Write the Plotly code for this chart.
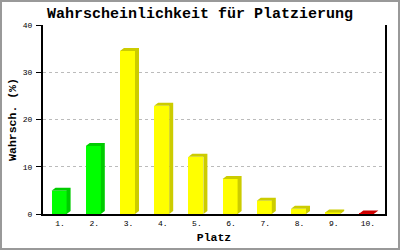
import plotly.graph_objects as go

# ---- data ----
categories = ["1.", "2.", "3.", "4.", "5.", "6.", "7.", "8.", "9.", "10."]
values = [4.9, 14.4, 34.5, 22.9, 12.1, 7.4, 2.8, 1.1, 0.3, 0.1]
y_ticks = [0, 10, 20, 30, 40]
groups = ["green", "green", "yellow", "yellow", "yellow", "yellow", "yellow", "yellow", "yellow", "red"]

# ---- style ----
FRONT = {"green": "#00FF00", "yellow": "#FFFF00", "red": "#FF0000"}
DARK = {"green": "#00CC00", "yellow": "#CCCC00", "red": "#CC0000"}
FONT = "Liberation Mono"

W, H = 400, 250
ML, MR, MT, MB = 43, 15, 25, 36
PW, PH = W - ML - MR, H - MT - MB
XR = [0.5, 10.5]
YR = [0, 40]
px_x = (XR[1] - XR[0]) / PW  # data units per pixel
px_y = (YR[1] - YR[0]) / PH

BAR_W = 0.44
BAR_OFF = -0.25
DX = 4 * px_x
DY = 3 * px_y

pos = list(range(1, len(categories) + 1))

fig = go.Figure()
fig.add_trace(go.Bar(
    x=pos, y=values, width=BAR_W, offset=BAR_OFF,
    marker=dict(color=[FRONT[g] for g in groups], line=dict(width=0)),
    hoverinfo="skip",
))

for p, v, g in zip(pos, values, groups):
    x0 = p + BAR_OFF
    x1 = x0 + BAR_W
    xs = [x1, x1 + DX, x1 + DX, x1, x1, None, x0, x0 + DX, x1 + DX, x1, x0]
    ys = [0, DY, v + DY, v, 0, None, v, v + DY, v + DY, v, v]
    fig.add_trace(go.Scatter(
        x=xs, y=ys, mode="lines", fill="toself",
        fillcolor=DARK[g], line=dict(width=0, color=DARK[g]),
        hoverinfo="skip",
    ))

# outer gray frame
def paper_x(px):
    return (px - ML) / PW

def paper_y(py):
    return (H - MB - py) / PH

fig.add_shape(type="rect", xref="paper", yref="paper",
              x0=paper_x(1), x1=paper_x(399), y0=paper_y(249), y1=paper_y(1),
              line=dict(color="#999999", width=2), layer="above")

fig.update_layout(
    width=W, height=H,
    margin=dict(l=ML, r=MR, t=MT, b=MB, autoexpand=False),
    paper_bgcolor="white", plot_bgcolor="white",
    showlegend=False, hovermode=False,
    bargap=0,
    font=dict(family=FONT, color="black", size=8),
    title=dict(text="Wahrscheinlichkeit für Platzierung",
               font=dict(family=FONT, size=15, weight="bold", color="black"),
               x=0.5, xref="container", xanchor="center",
               y=1 - 13 / H, yref="container", yanchor="middle"),
    xaxis=dict(range=XR, tickvals=pos, ticktext=categories, automargin=False,
               showgrid=False, zeroline=False,
               showline=True, linecolor="black", linewidth=2,
               ticks="", tickfont=dict(family=FONT, size=8, color="black"),
               title=dict(text="Platz", standoff=6,
                          font=dict(family=FONT, size=11.5, weight="bold", color="black"))),
    yaxis=dict(range=YR, tickvals=y_ticks, automargin=False,
               showgrid=True, gridcolor="#BBBBBB", gridwidth=1, griddash="3px,3px",
               zeroline=False,
               showline=True, mirror=True, linecolor="black", linewidth=2,
               ticks="outside", ticklen=5, tickwidth=1, tickcolor="black",
               ticklabelstandoff=2,
               tickfont=dict(family=FONT, size=8, color="black"),
               title=dict(text="Wahrsch. (%)", standoff=4,
                          font=dict(family=FONT, size=11.5, weight="bold", color="black"))),
)

fig.write_html("out.html")
